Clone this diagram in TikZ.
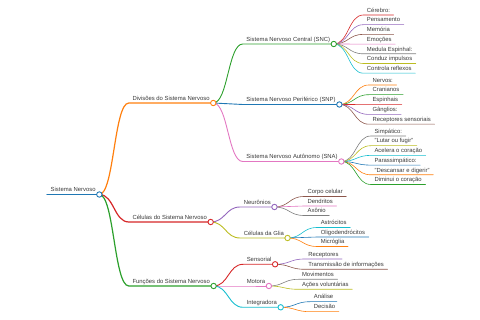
\documentclass[tikz,border=0pt]{standalone}
\usepackage{fontspec}
\setsansfont{Liberation Sans}
\usetikzlibrary{calc}
\definecolor{mmInk}{HTML}{3A3A3A}
\definecolor{mmBlue}{HTML}{1F77B4}
\definecolor{mmOrange}{HTML}{FF7F0E}
\definecolor{mmGreen}{HTML}{2CA02C}
\definecolor{mmRed}{HTML}{D62728}
\definecolor{mmPurple}{HTML}{9467BD}
\definecolor{mmBrown}{HTML}{8C564B}
\definecolor{mmPink}{HTML}{E377C2}
\definecolor{mmGray}{HTML}{7F7F7F}
\definecolor{mmOlive}{HTML}{BCBD22}
\definecolor{mmCyan}{HTML}{17BECF}
\tikzset{
  every picture/.style={font=\sffamily\fontsize{5.9}{7}\selectfont, text=mmInk},
  mm topic/.style={anchor=south west, inner xsep=3.5pt, inner ysep=2.5pt,
    text height=4.4pt, text depth=0pt},
  mm root/.style={line width=1.4pt, line cap=round},
  mm main/.style={line width=1.2pt, line cap=round},
  mm sub/.style={line width=0.9pt, line cap=round},
  mm leaf/.style={line width=0.6pt, line cap=round},
  mm dot/.style={draw=#1, fill=white, line width=0.9pt}
}
% topic under a parent: style, name, parent, y of underline, colour, text
\newcommand{\mmbranch}[6]{%
  \node[mm topic] (#2) at ($(#3.south east |- 0,#4)+(29.5,0)$) {#6};
  \draw[#1, draw=#5] (#3.south east) .. controls +(14.75,0) and +(-14.75,0) .. (#2.south west) -- (#2.south east);
}

\begin{document}
\begin{tikzpicture}[x=1pt,y=-1pt]
  \useasboundingbox (0,0) rectangle (480,320);

  % root
  \node[mm topic] (root) at (47,194.5) {Sistema Nervoso};
  \draw[mm root, draw=mmBlue] (root.south west) -- (root.south east);

  % main branches
  \mmbranch{mm main}{div}{root}{103}{mmOrange}{Divisões do Sistema Nervoso}
  \mmbranch{mm main}{cel}{root}{222}{mmRed}{Células do Sistema Nervoso}
  \mmbranch{mm main}{fun}{root}{286}{mmGreen}{Funções do Sistema Nervoso}

  % second level
  \mmbranch{mm sub}{snc}{div}{44}{mmGreen}{Sistema Nervoso Central (SNC)}
  \mmbranch{mm sub}{snp}{div}{104.5}{mmBlue}{Sistema Nervoso Periférico (SNP)}
  \mmbranch{mm sub}{sna}{div}{161.5}{mmPink}{Sistema Nervoso Autônomo (SNA)}
  \mmbranch{mm sub}{neu}{cel}{207}{mmPurple}{Neurônios}
  \mmbranch{mm sub}{glia}{cel}{238}{mmOlive}{Células da Glia}
  \mmbranch{mm sub}{sens}{fun}{264.3}{mmRed}{Sensorial}
  \mmbranch{mm sub}{mot}{fun}{286}{mmPink}{Motora}
  \mmbranch{mm sub}{int}{fun}{307.3}{mmCyan}{Integradora}

  % leaves
  \foreach \y/\c/\t [count=\i] in {15/mmRed/Cérebro:, 24.7/mmPurple/Pensamento,
      34.4/mmBrown/Memória, 44.1/mmPink/Emoções, 53.8/mmGray/Medula Espinhal:,
      63.5/mmOlive/Conduz impulsos, 73.2/mmCyan/Controla reflexos}
    \mmbranch{mm leaf}{snc\i}{snc}{\y}{\c}{\t};
  \foreach \y/\c/\t [count=\i] in {85/mmOrange/Nervos:, 94.7/mmGreen/Cranianos,
      104.6/mmRed/Espinhais, 114.4/mmPurple/Gânglios:, 124.2/mmBrown/Receptores sensoriais}
    \mmbranch{mm leaf}{snp\i}{snp}{\y}{\c}{\t};
  \foreach \y/\c/\t [count=\i] in {136/mmGray/Simpático:, 145.7/mmOlive/"Lutar ou fugir",
      155.4/mmCyan/Acelera o coração, 165.1/mmBlue/Parassimpático:,
      174.8/mmOrange/"Descansar e digerir", 184.5/mmGreen/Diminui o coração}
    \mmbranch{mm leaf}{sna\i}{sna}{\y}{\c}{\t};
  \foreach \y/\c/\t [count=\i] in {196.5/mmBrown/Corpo celular, 206/mmPink/Dendritos,
      215.5/mmGray/Axônio}
    \mmbranch{mm leaf}{neu\i}{neu}{\y}{\c}{\t};
  \foreach \y/\c/\t [count=\i] in {227.5/mmCyan/Astrócitos, 237/mmBlue/Oligodendrócitos,
      246.5/mmOrange/Micróglia}
    \mmbranch{mm leaf}{glia\i}{glia}{\y}{\c}{\t};
  \foreach \y/\c/\t [count=\i] in {259/mmPurple/Receptores, 269.3/mmBrown/Transmissão de informações}
    \mmbranch{mm leaf}{sens\i}{sens}{\y}{\c}{\t};
  \foreach \y/\c/\t [count=\i] in {279.3/mmGray/Movimentos, 289.3/mmOlive/Ações voluntárias}
    \mmbranch{mm leaf}{mot\i}{mot}{\y}{\c}{\t};
  \foreach \y/\c/\t [count=\i] in {301.7/mmBlue/Análise, 311.7/mmOrange/Decisão}
    \mmbranch{mm leaf}{int\i}{int}{\y}{\c}{\t};

  % joints on top of the links
  \foreach \n/\c in {root/mmBlue, div/mmOrange, cel/mmRed, fun/mmGreen,
      snc/mmGreen, snp/mmBlue, sna/mmPink, neu/mmPurple, glia/mmOlive,
      sens/mmRed, mot/mmPink, int/mmCyan}
    \draw[mm dot=\c] (\n.south east) circle (2.7pt);
\end{tikzpicture}
\end{document}
